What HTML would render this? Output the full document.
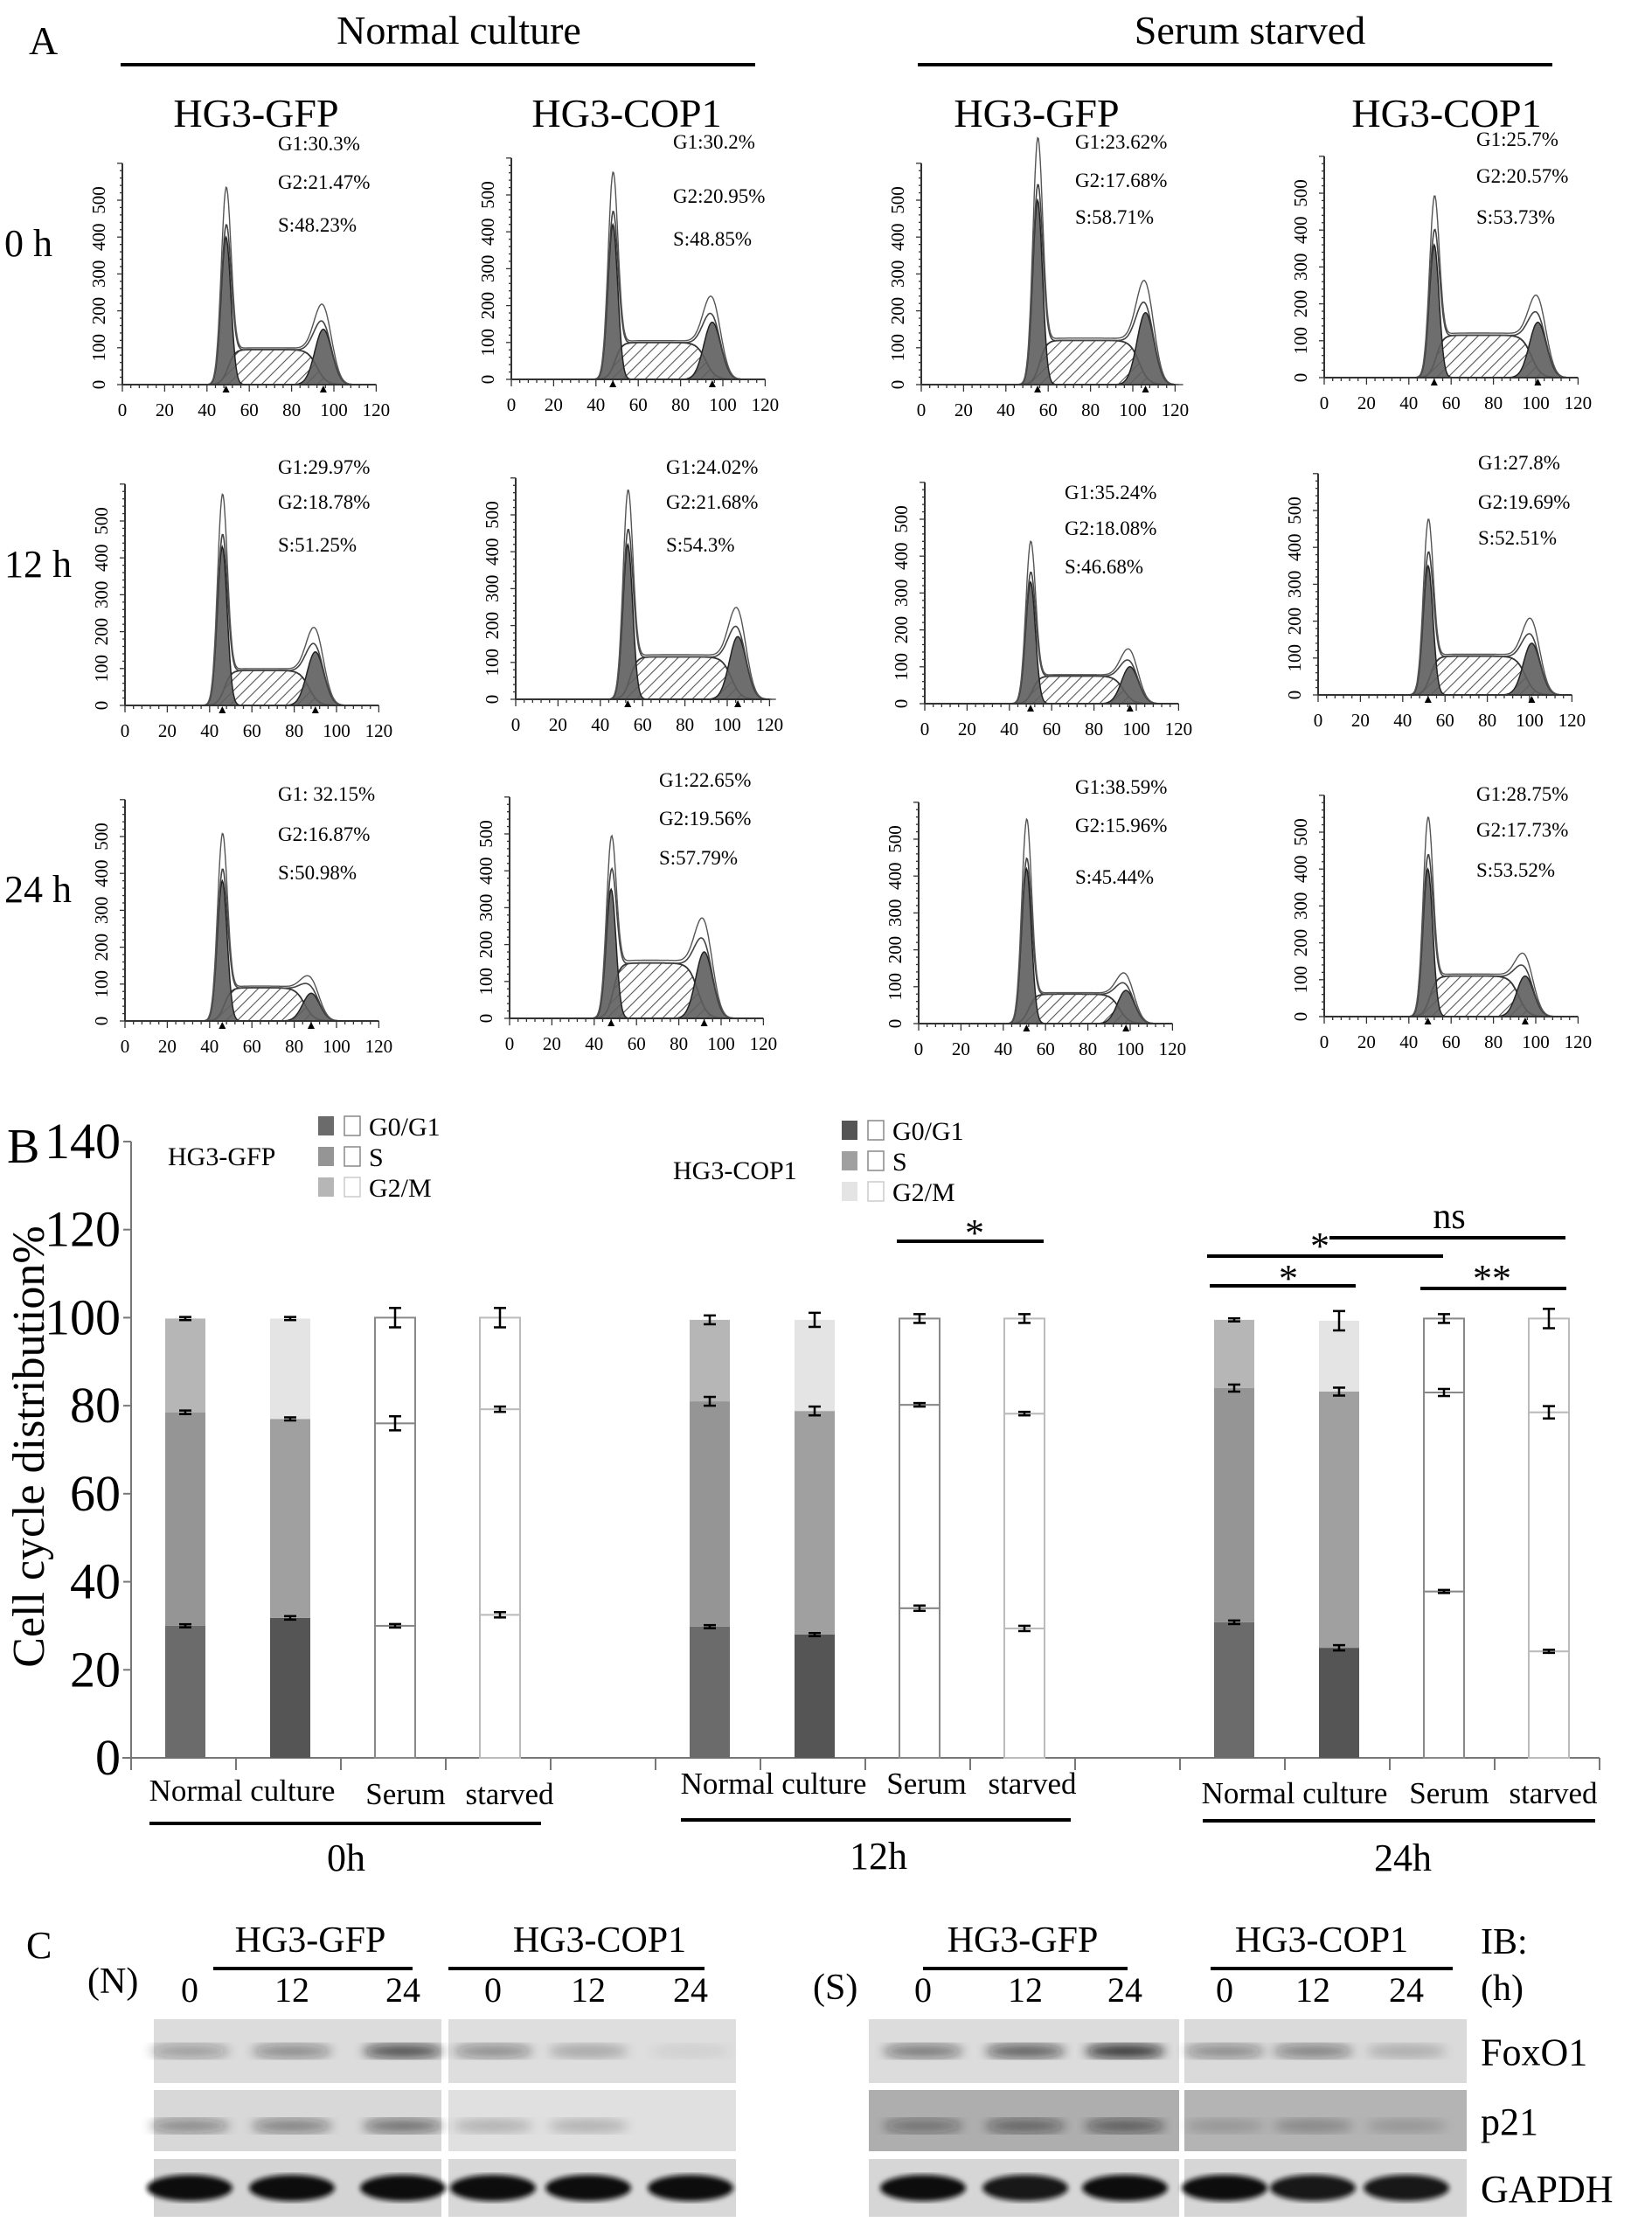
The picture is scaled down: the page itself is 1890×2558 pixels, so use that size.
<!DOCTYPE html>
<html><head><meta charset="utf-8"><style>
html,body{margin:0;padding:0;background:#fff;}
svg{display:block;font-family:"Liberation Serif",serif;}
</style></head><body>
<svg id="fig" width="1890" height="2558" viewBox="0 0 1890 2558" xmlns="http://www.w3.org/2000/svg">
<defs>
<pattern id="hatch" width="9" height="9" patternUnits="userSpaceOnUse" patternTransform="rotate(45)">
<rect width="9" height="9" fill="#fff"/><line x1="0" y1="0" x2="0" y2="9" stroke="#555" stroke-width="2.2"/></pattern>
<filter id="blur6"><feGaussianBlur stdDeviation="6"/></filter>
<filter id="blur3"><feGaussianBlur stdDeviation="3"/></filter>
</defs>
<g id="panelA"></g>
<g id="panelB"></g>
<g id="panelC"></g>
</svg>
<script>
// ---------- Panel A data ----------
const histG1Pos    = [49,48,55,52, 46,53,50,52, 46,48,51,49];
const histG1Height = [400,420,500,360, 430,420,330,350, 380,350,420,400];
const histG2Pos    = [95,95,106,101, 90,105,97,101, 88,92,98,95];
const histG2Height = [150,155,195,150, 145,170,100,140, 75,180,90,110];
const histSHeight  = [95,100,120,115, 95,115,75,105, 90,150,80,110];
const histLabels = [
 ["G1:30.3%","G2:21.47%","S:48.23%"],["G1:30.2%","G2:20.95%","S:48.85%"],
 ["G1:23.62%","G2:17.68%","S:58.71%"],["G1:25.7%","G2:20.57%","S:53.73%"],
 ["G1:29.97%","G2:18.78%","S:51.25%"],["G1:24.02%","G2:21.68%","S:54.3%"],
 ["G1:35.24%","G2:18.08%","S:46.68%"],["G1:27.8%","G2:19.69%","S:52.51%"],
 ["G1: 32.15%","G2:16.87%","S:50.98%"],["G1:22.65%","G2:19.56%","S:57.79%"],
 ["G1:38.59%","G2:15.96%","S:45.44%"],["G1:28.75%","G2:17.73%","S:53.52%"]];
const histXTicks = [0,20,40,60,80,100,120];
const histYTicks = [0,100,200,300,400,500];

// ---------- Panel B data ----------
const barGroups = ["0h","12h","24h"];
const barSlots = [0,1,2,3, 5,6,7,8, 10,11,12,13];
const g1Top = [30,31.8,30,32.5, 29.8,28,34,29.4, 30.8,25,37.8,24.2];
const sTop  = [78.5,77,76,79.2, 81,78.8,80.2,78.2, 84,83.2,83,78.5];
const g2Top = [99.8,99.8,100,100, 99.5,99.5,99.8,99.8, 99.5,99.3,99.8,99.8];
const g1Err = [0.3,0.4,0.4,0.6, 0.2,0.3,0.6,0.6, 0.4,0.6,0.2,0.3];
const sErr  = [0.4,0.2,1.6,0.6, 1,1,0.4,0.4, 0.8,0.9,0.8,1.4];
const g2Err = [0.2,0.2,2.2,2.2, 1,1.6,1,1, 0.3,2.2,1,2.2];
const yTicks = [0,20,40,60,80,100,120,140];

const NS="http://www.w3.org/2000/svg";
function el(tag, attrs, parent, text){
  const e=document.createElementNS(NS,tag);
  for(const k in attrs) e.setAttribute(k,attrs[k]);
  if(text!==undefined) e.textContent=text;
  parent.appendChild(e); return e;
}
const A=document.getElementById('panelA');
const B=document.getElementById('panelB');
const C=document.getElementById('panelC');

function txt(parent,x,y,s,size,name,anchor){
  const t=el('text',{x:x,y:y,'font-size':size,'text-anchor':anchor||'start',fill:'#000'},parent,s);
  
  
  return t;
}
txt(A,33,62,"A",46,"panel-a-label");
txt(A,525,50,"Normal culture",46,"normal-culture-title","middle");
txt(A,1430,50,"Serum starved",46,"serum-starved-title","middle");
let l1=el('line',{x1:138,y1:74,x2:864,y2:74,stroke:'#000','stroke-width':4},A);


let l2=el('line',{x1:1050,y1:74,x2:1776,y2:74,stroke:'#000','stroke-width':4},A);


const colHead=["HG3-GFP","HG3-COP1","HG3-GFP","HG3-COP1"];
const colHeadX=[293,717,1186,1655];
colHead.forEach((h,i)=>{txt(A,colHeadX[i],145,h,46,"column-header-"+(i+1),"middle");});
const rowLab=["0 h","12 h","24 h"]; const rowLabY=[293,660,1032];
rowLab.forEach((r,i)=>{txt(A,5,rowLabY[i],r,44,"row-label-"+r.replace(' ',''));});

const panelX0=[[140,585,1054,1515],[143,590,1058,1508],[143,583,1051,1515]];
const panelBase=[[440,434,440,432],[807,800,805,795],[1168,1165,1171,1163]];
const labX=[[318,770,1230,1689],[318,762,1218,1691],[318,754,1230,1689]];
const labY=[[[172,216,265],[170,232,281],[170,214,256],[167,209,256]],
 [[542,582,631],[542,582,631],[571,612,656],[537,582,623]],
 [[916,962,1006],[900,944,989],[908,952,1011],[916,957,1003]]];
const XS=2.42, YS=0.422;
function gauss(x,m,s){return Math.exp(-0.5*((x-m)/s)*((x-m)/s));}
function sig(x){return 1/(1+Math.exp(-x));}
for(let r=0;r<3;r++)for(let c=0;c<4;c++){
  const i=r*4+c;
  const g=el('g',{},A);
  
  
  const x0=panelX0[r][c], base=panelBase[r][c];
  const X=v=>x0+v*XS, Y=v=>base-v*YS;
  const m1=histG1Pos[i],h1=histG1Height[i],m2=histG2Pos[i],h2=histG2Height[i],hs=histSHeight[i];
  const sF=v=>hs*sig((v-(m1+1))/1.6)*sig(((m2-3)-v)/2.2);
  const g1F=v=>h1*gauss(v,m1,2.3);
  const g2F=v=>h2*gauss(v,m2,4.0);
  function path(f,from,to,close){
    let d='';
    for(let v=from;v<=to+0.001;v+=0.4){d+=(d?'L':'M')+X(v).toFixed(1)+','+Y(f(v)).toFixed(1);}
    if(close) d+='L'+X(to).toFixed(1)+','+base+'L'+X(from).toFixed(1)+','+base+'Z';
    return d;
  }
  let p=el('path',{d:path(sF,m1-8,m2+8,true),fill:'url(#hatch)',stroke:'#333','stroke-width':1.8},g);
  
  
  p=el('path',{d:path(g1F,m1-8,m1+8,true),fill:'#5e5e5e','fill-opacity':0.9,stroke:'#222','stroke-width':1.5},g);
  
  
  p=el('path',{d:path(g2F,m2-14,m2+14,true),fill:'#5e5e5e','fill-opacity':0.9,stroke:'#222','stroke-width':1.5},g);
  
  
  const tot=v=>g1F(v)+g2F(v)+sF(v);
  p=el('path',{d:path(tot,m1-10,m2+16,false),fill:'none',stroke:'#444','stroke-width':1.6},g);
  
  
  const tot2=v=>g1F(v)*1.25+g2F(v)*1.3+sF(v)*1.05;
  p=el('path',{d:path(tot2,m1-10,m2+18,false),fill:'none',stroke:'#555','stroke-width':1.4},g);
  
  
  let a=el('line',{x1:X(0),y1:base,x2:X(120),y2:base,stroke:'#333','stroke-width':2},g);
  
  
  a=el('line',{x1:X(0),y1:base,x2:X(0),y2:Y(600),stroke:'#333','stroke-width':2},g);
  
  
  for(let v=0;v<=120;v+=4){el('line',{x1:X(v),y1:base,x2:X(v),y2:base+(v%20?4:8),stroke:'#333','stroke-width':1.3},g);}
  for(let v=0;v<=600;v+=20){el('line',{x1:X(0),y1:Y(v),x2:X(0)-(v%100?3:6),y2:Y(v),stroke:'#333','stroke-width':1.3},g);}
  histXTicks.forEach(v=>{txt(g,X(v),base+36,String(v),21,'x-tick-'+v,'middle');});
  histYTicks.forEach(v=>{
    const t=txt(g,0,0,String(v),21,'y-tick-'+v,'middle');
    t.setAttribute('transform','translate('+(X(0)-20)+','+Y(v)+') rotate(-90)');
  });
  [m1,m2].forEach(m=>{el('path',{d:'M'+(X(m)-4)+','+(base+9)+'L'+(X(m)+4)+','+(base+9)+'L'+X(m)+','+(base+1)+'Z',fill:'#000'},g);});
  histLabels[i].forEach((s,k)=>{txt(g,labX[r][c],labY[r][c][k],s,23,'stat-label-'+['g1','g2','s'][k]);});
}

// ---------- Panel B ----------
const axX=150, slotW=120, y0=2011, ppu=5.036;
const yB=v=>y0-v*ppu, slotC=s=>axX+slotW*s+62;
txt(B,8,1330,"B",56,"panel-b-label");
let ax=el('line',{x1:axX,y1:yB(140),x2:axX,y2:y0,stroke:'#777','stroke-width':2},B);


ax=el('line',{x1:axX-10,y1:y0,x2:axX+slotW*14,y2:y0,stroke:'#777','stroke-width':2},B);


yTicks.forEach(v=>{
  el('line',{x1:axX-9,y1:yB(v),x2:axX,y2:yB(v),stroke:'#777','stroke-width':2},B);
  txt(B,138,yB(v)+19,String(v),58,'y-tick-'+v,'end');
});
for(let s=0;s<=14;s++){el('line',{x1:axX+slotW*s,y1:y0,x2:axX+slotW*s,y2:y0+14,stroke:'#777','stroke-width':2},B);}
const yt=txt(B,0,0,"Cell cycle distribution%",52,"y-axis-title","middle");
yt.setAttribute('transform','translate(50,1655) rotate(-90)');
const fillsN=[["#6b6b6b","#959595","#b6b6b6"],["#555555","#a0a0a0","#e4e4e4"]];
barSlots.forEach((s,i)=>{
  const cx=slotC(s), w=46, white=(i%4)>=2, cop=(i%2)===1;
  const g=el('g',{},B);
  
  
  const segs=[[0,g1Top[i]],[g1Top[i],sTop[i]],[sTop[i],g2Top[i]]];
  segs.forEach((sg,k)=>{
    const r=el('rect',{x:cx-w/2,y:yB(sg[1]),width:w,height:yB(sg[0])-yB(sg[1]),
      fill:white?'#fff':fillsN[cop?1:0][k],stroke:white?(cop?'#bbb':'#888'):'none','stroke-width':2},g);
    
    
  });
  [[g1Top[i],g1Err[i]],[sTop[i],sErr[i]],[g2Top[i],g2Err[i]]].forEach(([v,e])=>{
    const ee=Math.max(e,0.35);
    el('line',{x1:cx,y1:yB(v+ee),x2:cx,y2:yB(v-ee),stroke:'#000','stroke-width':2.5},g);
    el('line',{x1:cx-7,y1:yB(v+ee),x2:cx+7,y2:yB(v+ee),stroke:'#000','stroke-width':2.5},g);
    el('line',{x1:cx-7,y1:yB(v-ee),x2:cx+7,y2:yB(v-ee),stroke:'#000','stroke-width':2.5},g);
  });
});
const gl=[[277,2060,464,2064,583,2064,396,2086,171,619,2140],[885,2052,1060,2052,1181,2052,1005,2082,779,1225,2138],[1481,2063,1658,2063,1777,2063,1605,2083,1376,1825,2140]];
gl.forEach((q,k)=>{
  txt(B,q[0],q[1],"Normal culture",35,"x-label-normal-culture-"+barGroups[k],"middle");
  txt(B,q[2],q[3],"Serum",35,"x-label-serum-"+barGroups[k],"middle");
  txt(B,q[4],q[5],"starved",35,"x-label-starved-"+barGroups[k],"middle");
  el('line',{x1:q[8],y1:q[7],x2:q[9],y2:q[7],stroke:'#000','stroke-width':4},B);
  txt(B,q[6],q[10],barGroups[k],44,"group-label-"+barGroups[k],"middle");
});
function legend(x,y,label,cols,lx,ly){
  const g=el('g',{},B);
  
  
  txt(g,lx,ly,label,30,'legend-title');
  ["G0/G1","S","G2/M"].forEach((n,k)=>{
    const yy=y+k*35;
    el('rect',{x:x,y:yy-10,width:18,height:22,fill:cols[k]},g);
    el('rect',{x:x+30,y:yy-10,width:18,height:22,fill:'#fff',stroke:k<2?'#888':'#ccc','stroke-width':1.5},g);
    txt(g,x+58,yy+12,n,30,'legend-entry-'+n.replace('/','-').toLowerCase());
  });
}
legend(364,1287,"HG3-GFP",fillsN[0],192,1333);
legend(963,1292,"HG3-COP1",fillsN[1],770,1349);
const sig1=[[1026,1194,1420],[1381,1651,1437],[1521,1791,1416],[1384,1551,1471],[1625,1792,1474]];
sig1.forEach(s=>{let l=el('line',{x1:s[0],y1:s[2],x2:s[1],y2:s[2],stroke:'#000','stroke-width':4},B);
  
  });
txt(B,1115,1425,"*",44,"sig-star-12h","middle");
txt(B,1510,1440,"*",44,"sig-star-24h-top","middle");
txt(B,1474,1477,"*",44,"sig-star-24h","middle");
txt(B,1707,1477,"**",44,"sig-star-serum-24h","middle");
txt(B,1658,1405,"ns",42,"sig-ns","middle");

// ---------- Panel C ----------
txt(C,30,2240,"C",44,"panel-c-label");
const ch=[[355,"HG3-GFP",244,472],[686,"HG3-COP1",513,806],[1170,"HG3-GFP",1056,1290],[1512,"HG3-COP1",1385,1662]];
ch.forEach((h,k)=>{txt(C,h[0],2233,h[1],42,"blot-header-"+k,"middle");
  el('line',{x1:h[2],y1:2252,x2:h[3],y2:2252,stroke:'#000','stroke-width':4},C);});
txt(C,100,2280,"(N)",42,"normal-label");
txt(C,930,2287,"(S)",42,"serum-label");
txt(C,1694,2235,"IB:",42,"ib-label");
txt(C,1694,2288,"(h)",42,"hours-label");
const laneX=[217,334,461,564,673,790,1056,1173,1287,1401,1502,1609];
const laneT=["0","12","24","0","12","24","0","12","24","0","12","24"];
laneX.forEach((x,k)=>{txt(C,x,2290,laneT[k],40,"time-label-"+k,"middle");});
const boxes=[[176,505],[513,842],[994,1349],[1355,1678]];
const rows=[[2310,2383,"FoxO1"],[2391,2461,"p21"],[2470,2536,"GAPDH"]];
const bg=[["#dcdcdc","#dedede","#dcdcdc","#dadada"],["#d8d8d8","#e0e0e0","#aeaeae","#b4b4b4"],["#d4d4d4","#d8d8d8","#d6d6d6","#d6d6d6"]];
const foxo1Band=[0.4,0.5,0.85,0.5,0.3,0.08, 0.6,0.75,1,0.5,0.55,0.25];
const p21Band  =[0.5,0.55,0.65,0.25,0.25,0.0, 0.5,0.6,0.65,0.2,0.3,0.2];
const gapdhBand=[1,1,1,1,1,1, 1,0.95,1,1,0.95,0.95];
const bands=[foxo1Band,p21Band,gapdhBand];
rows.forEach((r,ri)=>{
  const g=el('g',{},C);
  
  
  boxes.forEach((b,bi)=>{
    el('rect',{x:b[0],y:r[0],width:b[1]-b[0],height:r[1]-r[0],fill:bg[ri][bi]},g);
  });
  bands[ri].forEach((v,li)=>{
    if(v<=0) return;
    const cy=(r[0]+r[1])/2+(ri===1?6:0);
    const bw=ri===2?98:92, bh=ri===2?30:16;
    const e=el('ellipse',{cx:laneX[li],cy:cy,rx:bw/2,ry:bh/2,fill:'#111','fill-opacity':v*(ri===2?1:0.85),filter:ri===2?'url(#blur3)':'url(#blur6)'},g);
    
    
  });
  txt(C,1694,(r[0]+r[1])/2+16,r[2],44,'blot-label-'+r[2].toLowerCase());
});
</script>
</body></html>
